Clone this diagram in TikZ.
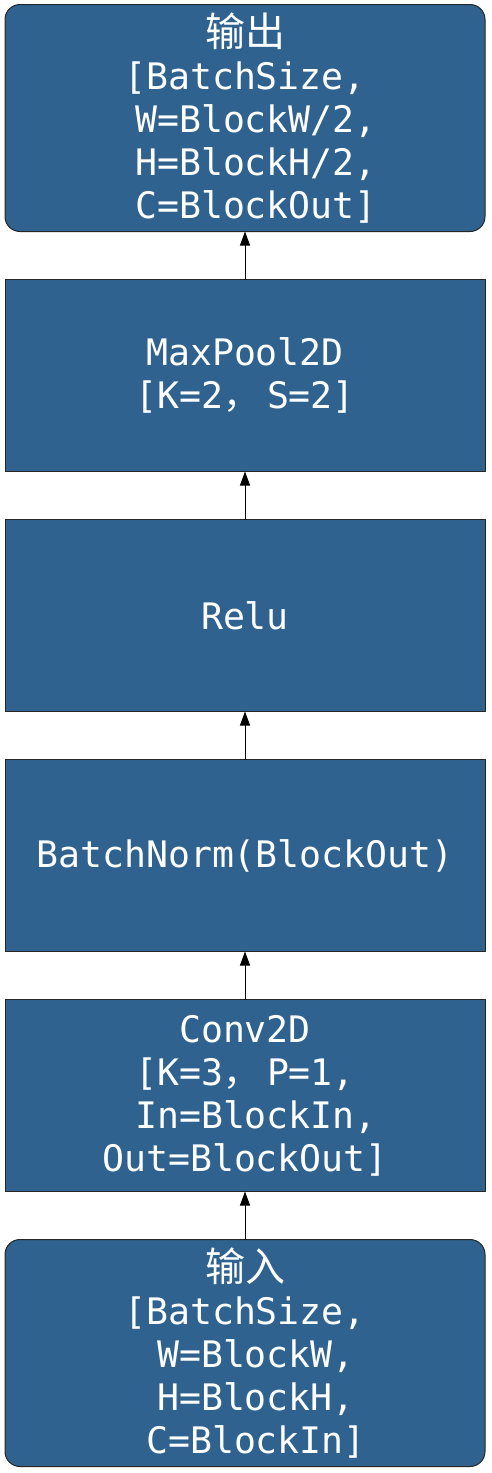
\documentclass[tikz,border=0pt]{standalone}
\usepackage{fontspec}
\setmainfont{DejaVu Sans Mono}
\newfontfamily\cjk{Noto Sans CJK SC}
\usetikzlibrary{positioning,arrows.meta}
\definecolor{blockblue}{RGB}{47,98,142}
\newcommand{\zh}[1]{{\cjk\fontsize{40pt}{43pt}\selectfont #1}}
\newcommand{\zhcomma}{\makebox[44pt][l]{\cjk ，}}
\begin{document}
\begin{tikzpicture}[x=1pt,y=1pt,>={Triangle[length=14pt,width=10pt]},line join=round,
    font=\fontsize{36.5pt}{43pt}\selectfont,
    blockbox/.style={draw=black!85,line width=1pt,fill=blockblue,text=white,align=center,
        minimum width=480pt,minimum height=192pt,inner sep=0pt,outer sep=0pt},
    roundbox/.style={blockbox,rounded corners=15pt,minimum height=227pt}]
    \useasboundingbox (0,0) rectangle (491,-1473);
    \node[roundbox] (output) at (245,-118) {\zh{输出}\\{[}BatchSize,\\ \ W=BlockW/2,\\ \ H=BlockH/2,\\ \ C=BlockOut]};
    \node[blockbox,below=48pt of output] (maxpool) {MaxPool2D\\ {[}K=2\zhcomma S=2]};
    \node[blockbox,below=48pt of maxpool] (relu) {Relu};
    \node[blockbox,below=48pt of relu] (batchnorm) {BatchNorm(BlockOut)};
    \node[blockbox,below=48pt of batchnorm] (conv) {Conv2D\\ {[}K=3\zhcomma P=1,\\ \ In=BlockIn,\\ Out=BlockOut]};
    \node[roundbox,below=48pt of conv] (input) {\zh{输入}\\{[}BatchSize,\\ \ W=BlockW,\\ \ H=BlockH,\\ \ C=BlockIn]};
    \foreach \a/\b in {input/conv,conv/batchnorm,batchnorm/relu,relu/maxpool,maxpool/output}
        \draw[->,line width=1pt] (\a) -- (\b);
\end{tikzpicture}
\end{document}
